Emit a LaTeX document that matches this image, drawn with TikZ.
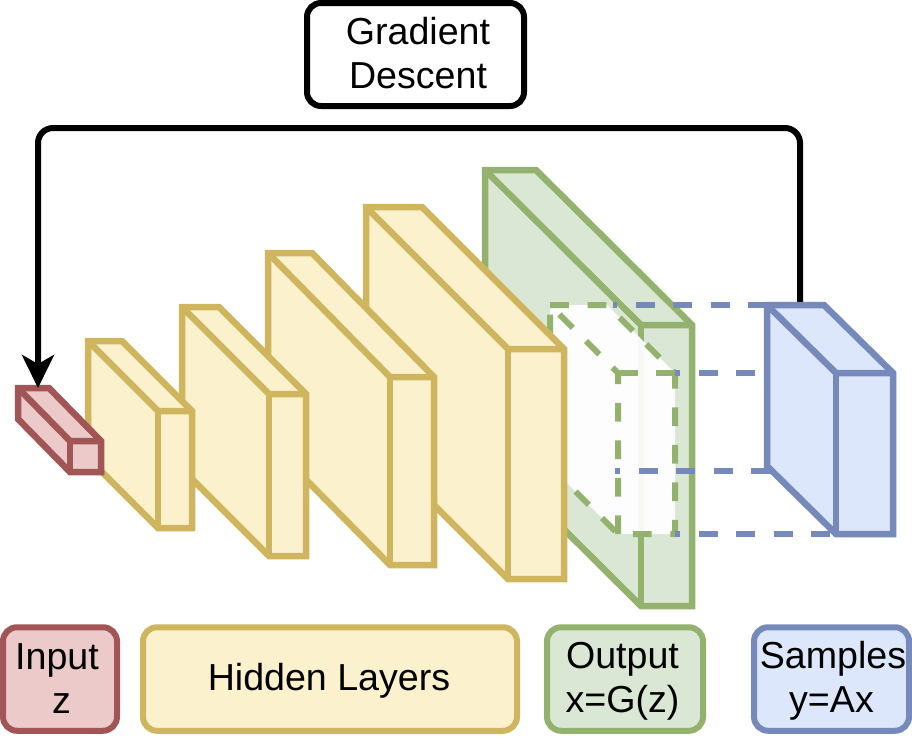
\documentclass[tikz,border=0pt]{standalone}
\usepackage{fontspec}
\setmainfont{Liberation Sans}
\usetikzlibrary{arrows.meta}
\definecolor{redline}{RGB}{162,85,85}
\definecolor{redfill}{RGB}{236,202,202}
\definecolor{yellowline}{RGB}{206,181,94}
\definecolor{yellowfill}{RGB}{251,241,205}
\definecolor{greenline}{RGB}{147,178,110}
\definecolor{greenfill}{RGB}{219,231,213}
\definecolor{blueline}{RGB}{117,137,187}
\definecolor{bluefill}{RGB}{220,231,251}
% name, style, back left x, top y, back right x, front right x, front top y, bottom y
\newcommand{\cuboid}[8]{
  \coordinate (#1-a) at (#3,#4);
  \coordinate (#1-b) at (#5,#4);
  \coordinate (#1-c) at (#6,#7);
  \coordinate (#1-d) at (#6,#8);
  \coordinate (#1-e) at ({#6-#5+#3},#8);
  \coordinate (#1-f) at (#3,{#8-#7+#4});
  \coordinate (#1-g) at ({#6-#5+#3},#7);
  \draw[#2] (#1-a) -- (#1-b) -- (#1-c) -- (#1-d) -- (#1-e) -- (#1-f) -- cycle;
  \draw[#2, fill=none] (#1-a) -- (#1-g) -- (#1-c);
  \draw[#2, fill=none] (#1-g) -- (#1-e);
}
\begin{document}
\begin{tikzpicture}[
    x=1pt, y=-1pt,
    box/.style={rectangle, draw, line width=6pt, rounded corners=14pt, align=center,
                inner sep=0pt, font=\fontsize{37.6}{44}\selectfont},
    face/.style={line width=6.5pt, miter limit=10},
    dashline/.style={line width=6pt, dash pattern=on 18.75pt off 18.75pt},
    arrow/.style={-{Stealth[length=33pt, width=32pt, inset=9pt]}, line width=6pt, rounded corners=15pt}
]
\useasboundingbox (0,0) rectangle (912,737);

% output block with the white cut out
\cuboid{green}{face, draw=greenline, fill=greenfill}{485}{170}{536}{692}{325}{606}

\coordinate (over-a) at (550,305);
\coordinate (over-b) at (607,305);
\coordinate (over-c) at (675,373);
\coordinate (over-d) at (675,534);
\coordinate (over-e) at (618,534);
\coordinate (over-f) at (550,466);
\coordinate (over-g) at (618,373);
\fill[white, opacity=0.93] (over-a) -- (over-b) -- (over-c) -- (over-d) -- (over-e) -- (over-f) -- cycle;
\draw[dashline, greenline] (over-a) -- (over-b) -- (over-c) -- (over-d) -- (over-e) -- (over-f) -- cycle;
\draw[dashline, greenline] (over-e) -- (over-g) -- (over-a);
\draw[dashline, greenline] (over-c) -- (over-g);

% hidden layers
\cuboid{layerd}{face, draw=yellowline, fill=yellowfill}{366}{207}{422}{564}{349}{579}
\cuboid{layerc}{face, draw=yellowline, fill=yellowfill}{268}{253}{312}{434}{377}{565}
\cuboid{layerb}{face, draw=yellowline, fill=yellowfill}{182}{307}{219}{306}{394}{556}
\cuboid{layera}{face, draw=yellowline, fill=yellowfill}{88}{341}{122}{192}{411}{528}

% input
\cuboid{input}{face, draw=redline, fill=redfill}{18}{388}{49}{101}{441}{472}

% projection of the samples
\coordinate (tap-a) at (613,305);
\coordinate (tap-b) at (830,373);
\coordinate (tap-c) at (770,471);
\coordinate (tap-d) at (615,471);
\coordinate (tap-e) at (830,534);
\coordinate (tap-f) at (767,305);
\draw[dashline, blueline] (tap-f) -- (tap-a);
\draw[dashline, blueline] (tap-b) -- (over-c);
\draw[dashline, blueline] (tap-c) -- (tap-d);
\draw[dashline, blueline] (tap-e) -- (over-d);

% feedback
\coordinate (fb-start) at (800,305);
\coordinate (fb-end) at (38,388);
\draw[arrow] (fb-start) -- (800,128) -- (38,128) -- (fb-end);

% samples
\cuboid{samples}{face, draw=blueline, fill=bluefill}{767}{305}{824}{893}{373}{534}

% labels
\node[box, draw=black, fill=white, minimum width=217pt, minimum height=103pt] (descent) at (415.5,54.5) {\kern5pt Gradient\\\kern5pt Descent\rule[-4pt]{0pt}{0pt}};
\node[box, draw=redline, fill=redfill, minimum width=114pt, minimum height=103.5pt] (inputlabel) at (60,679) {Input\kern6pt\\\kern3pt z};
\node[box, draw=yellowline, fill=yellowfill, minimum width=374pt, minimum height=103.5pt] (hiddenlabel) at (330,679) {\rule{0pt}{31pt}Hidden Layers\kern2pt};
\node[box, draw=greenline, fill=greenfill, minimum width=156pt, minimum height=103.5pt] (outputlabel) at (625,679) {\rule{0pt}{31pt}Output\kern5pt\\x=G(z)\kern5pt};
\node[box, draw=blueline, fill=bluefill, minimum width=155pt, minimum height=103.5pt] (sampleslabel) at (831.5,679) {\rule{0pt}{31pt}\kern3pt Samples\\y=Ax};

\end{tikzpicture}
\end{document}
